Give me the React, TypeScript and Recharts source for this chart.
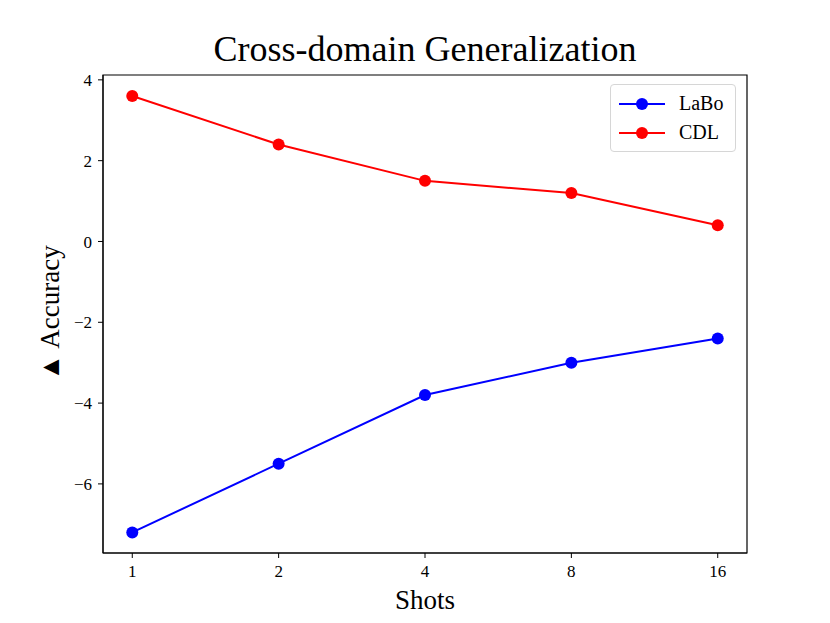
import React from "react";
import { LineChart, Line, XAxis, YAxis, ReferenceArea } from "recharts";

const shots = ["1", "2", "4", "8", "16"];
const labo = [-7.2, -5.5, -3.8, -3.0, -2.4];
const cdl = [3.6, 2.4, 1.5, 1.2, 0.4];
const yTicks = [-6, -4, -2, 0, 2, 4];

const data = shots.map((s, i) => ({ idx: i, shot: s, labo: labo[i], cdl: cdl[i] }));

const FONT = "'Liberation Serif', 'Times New Roman', serif";
const X_DOMAIN: [number, number] = [-0.2, 4.2];
const Y_DOMAIN: [number, number] = [-7.71, 4.12];

const series = [
  { key: "labo", name: "LaBo", color: "#0000ff" },
  { key: "cdl", name: "CDL", color: "#ff0000" },
];

function LegendBox() {
  return (
    <div
      style={{
        position: "absolute",
        left: 610,
        top: 84,
        boxSizing: "border-box",
        width: 126,
        height: 68,
        border: "1.5px solid #d6d6d6",
        borderRadius: 4,
        background: "#fff",
        padding: "4px 8px",
        fontFamily: FONT,
        fontSize: 20,
      }}
    >
      {series.map((s) => (
        <div key={s.key} style={{ display: "flex", alignItems: "center", height: 29 }}>
          <svg width={46} height={16} style={{ marginRight: 14 }}>
            <line x1={0} y1={8} x2={46} y2={8} stroke={s.color} strokeWidth={2} />
            <circle cx={23} cy={8} r={6} fill={s.color} />
          </svg>
          <span>{s.name}</span>
        </div>
      ))}
    </div>
  );
}

export default function App() {
  return (
    <div style={{ position: "absolute", left: 0, top: 0, width: 830, height: 623, background: "#fff" }}>
      <LineChart width={830} height={623} data={data} margin={{ top: 75, right: 83, bottom: 40, left: 63 }}>
        <XAxis
          dataKey="idx"
          type="number"
          domain={X_DOMAIN}
          allowDataOverflow
          ticks={[0, 1, 2, 3, 4]}
          tickFormatter={(v) => shots[v]}
          stroke="#000"
          tickSize={5}
          tickMargin={7}
          height={30}
          fontSize={17}
          fontFamily={FONT}
          tick={{ fill: "#000", fontFamily: FONT, fontSize: 17 }}
        />
        <YAxis
          type="number"
          domain={Y_DOMAIN}
          allowDataOverflow
          ticks={yTicks}
          tickFormatter={(v) => (v < 0 ? `\u2212${Math.abs(v)}` : `${v}`)}
          stroke="#000"
          tickSize={5}
          tickMargin={6}
          width={40}
          fontSize={17}
          fontFamily={FONT}
          tick={{ fill: "#000", fontFamily: FONT, fontSize: 17 }}
        />
        <ReferenceArea
          x1={X_DOMAIN[0]}
          x2={X_DOMAIN[1]}
          y1={Y_DOMAIN[0]}
          y2={Y_DOMAIN[1]}
          fill="none"
          fillOpacity={0}
          stroke="#000"
          strokeWidth={1.2}
          ifOverflow="visible"
        />
        {series.map((s) => (
          <Line
            key={s.key}
            dataKey={s.key}
            name={s.name}
            type="linear"
            stroke={s.color}
            strokeWidth={2}
            dot={{ r: 6, fill: s.color, stroke: s.color, strokeWidth: 0 }}
            activeDot={false}
            isAnimationActive={false}
          />
        ))}
      </LineChart>
      <div
        style={{
          position: "absolute",
          left: 0,
          width: 850,
          top: 28,
          textAlign: "center",
          fontFamily: FONT,
          fontSize: 36,
          lineHeight: "42px",
        }}
      >
        Cross-domain Generalization
      </div>
      <div
        style={{
          position: "absolute",
          left: 50 - 100,
          top: 313 - 15,
          width: 200,
          height: 30,
          textAlign: "center",
          transform: "rotate(-90deg)",
          fontFamily: FONT,
          fontSize: 27,
          lineHeight: "30px",
        }}
      >
        ▲ Accuracy
      </div>
      <div
        style={{
          position: "absolute",
          left: 0,
          width: 850,
          top: 585,
          textAlign: "center",
          fontFamily: FONT,
          fontSize: 27,
          lineHeight: "30px",
        }}
      >
        Shots
      </div>
      <LegendBox />
    </div>
  );
}
